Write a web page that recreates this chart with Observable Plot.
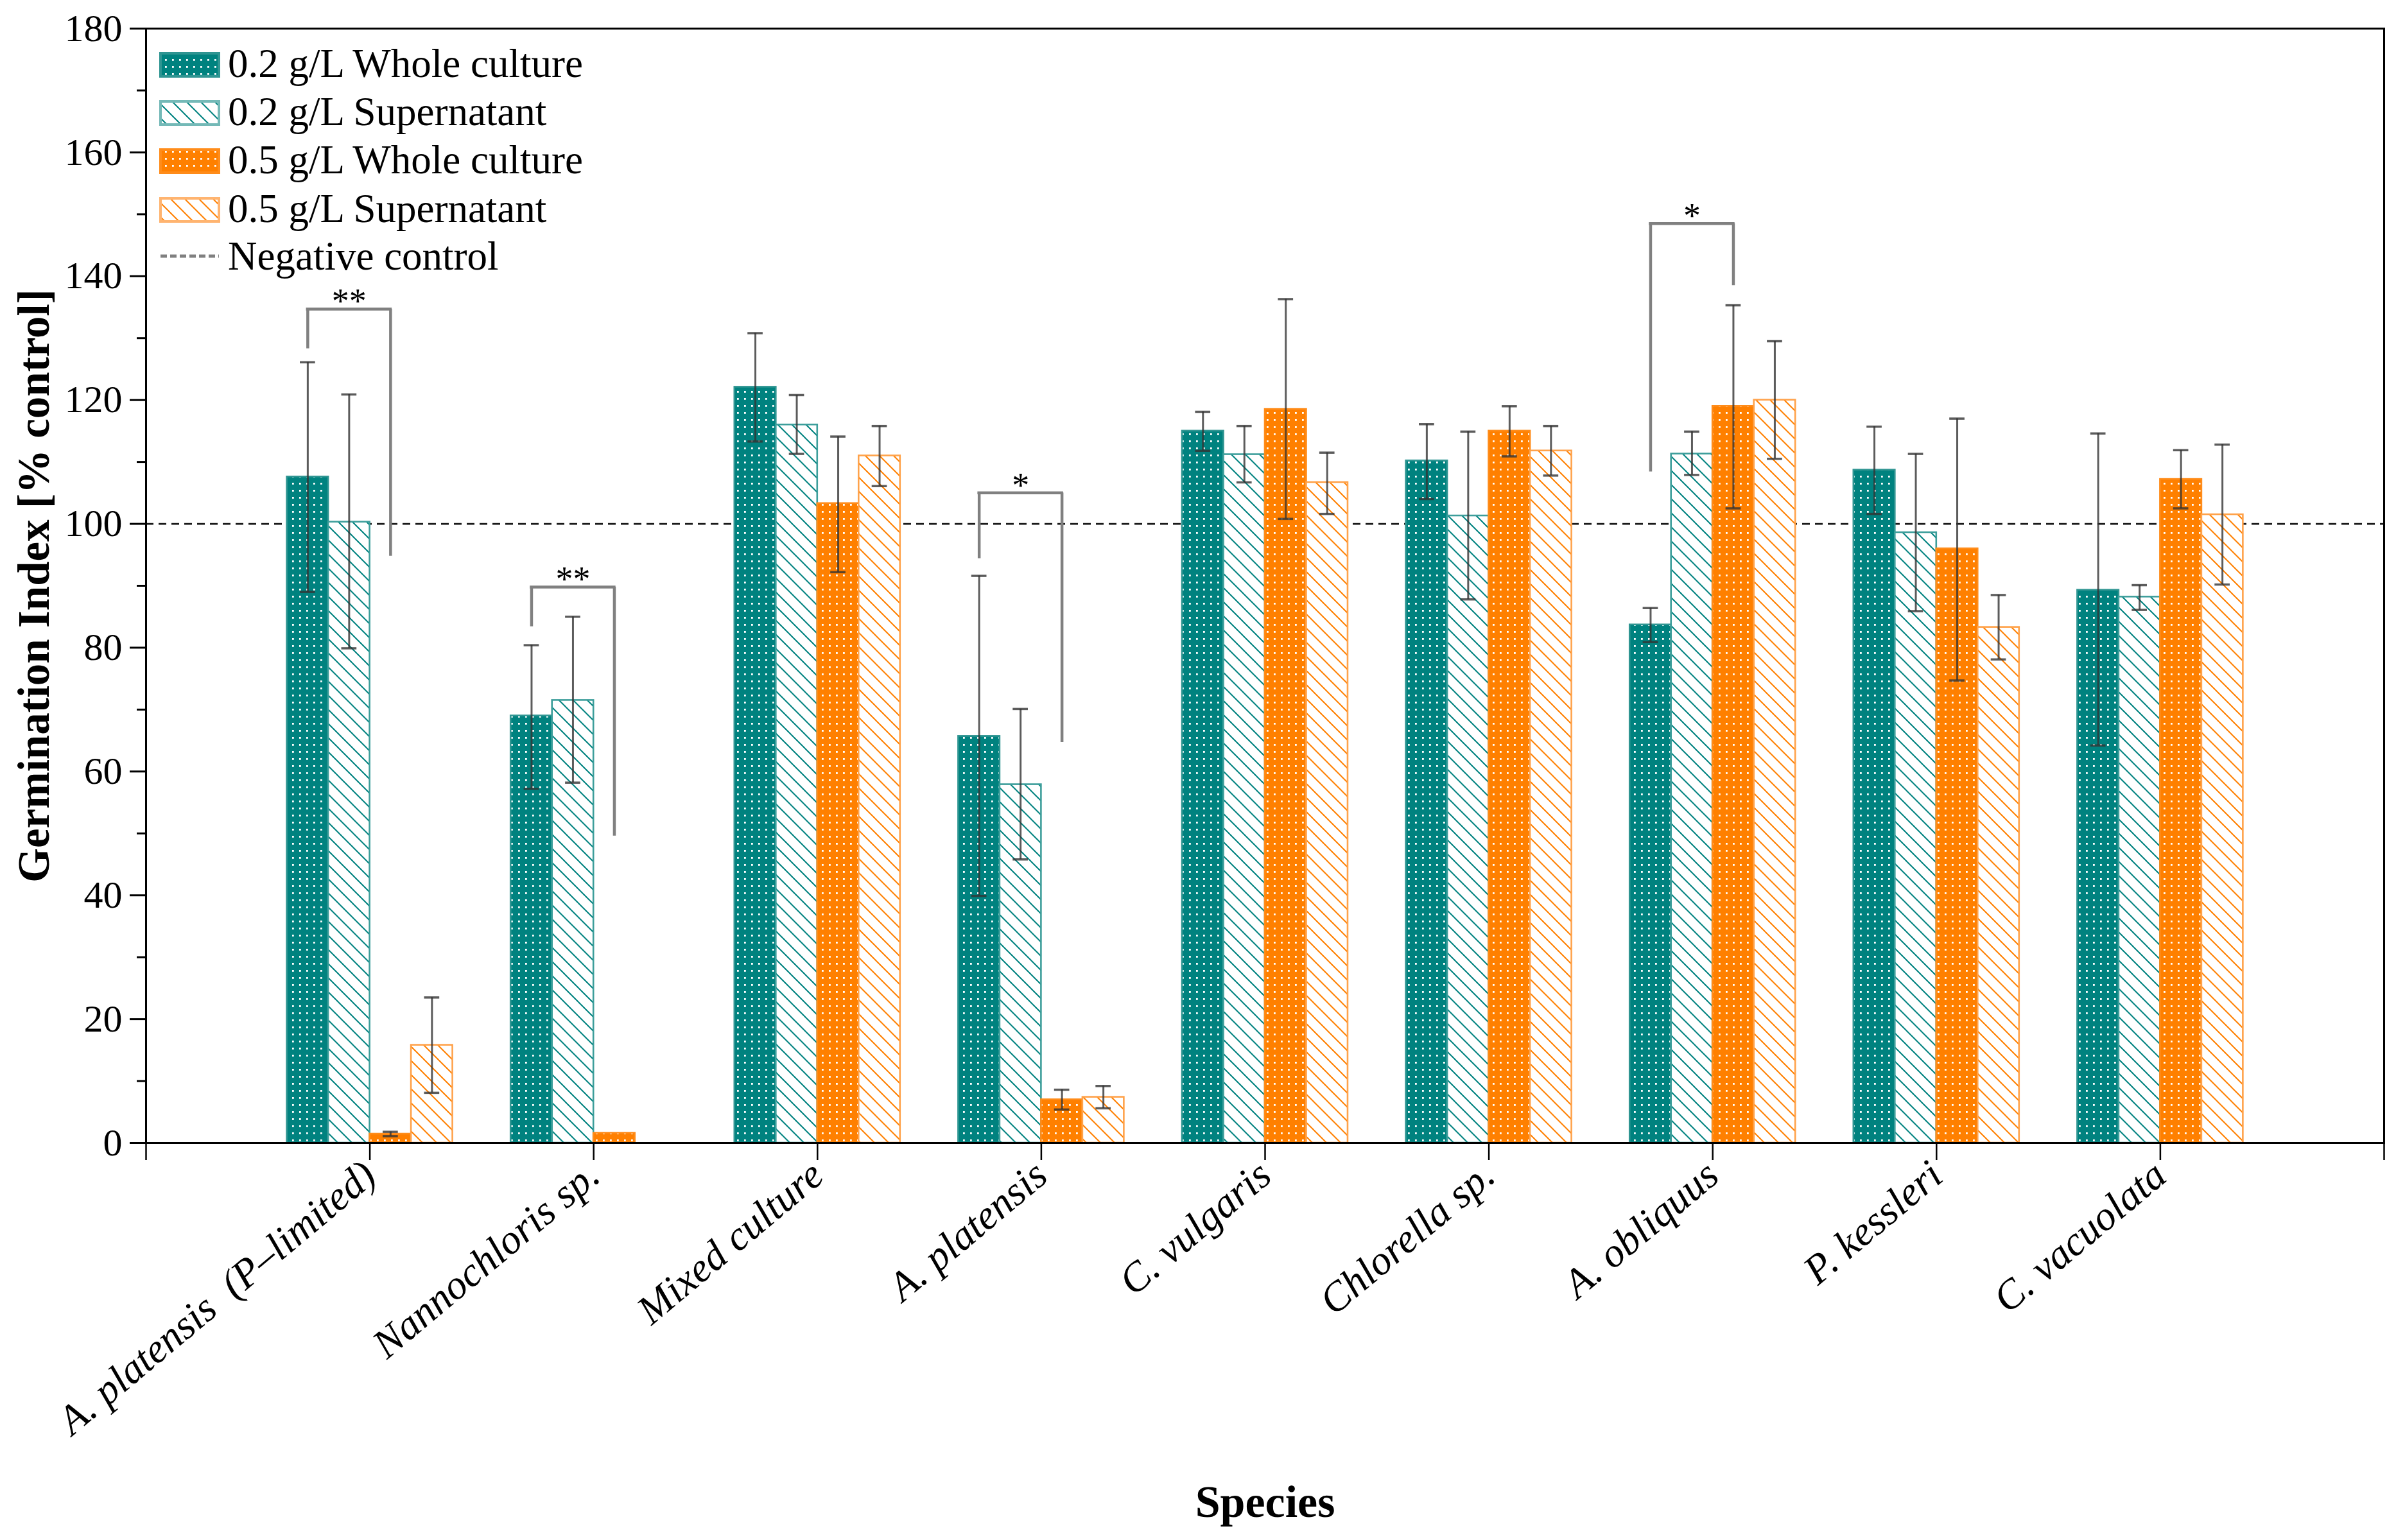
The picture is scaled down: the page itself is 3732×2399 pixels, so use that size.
<!DOCTYPE html>
<html>
<head>
<meta charset="utf-8">
<script src="https://cdn.jsdelivr.net/npm/d3@7"></script>
<script src="https://cdn.jsdelivr.net/npm/@observablehq/plot@0.6"></script>
<style>
  html, body { margin: 0; padding: 0; background: #fff; }
  #defs { position: absolute; width: 0; height: 0; }
</style>
</head>
<body>
<svg id="defs" width="0" height="0">
  <defs>
    <pattern id="dotsTeal" patternUnits="userSpaceOnUse" width="11" height="11">
      <rect width="11" height="11" fill="#00827F"></rect>
      <rect x="4" y="4" width="2.8" height="2.8" fill="#ffffff"></rect>
    </pattern>
    <pattern id="dotsOrange" patternUnits="userSpaceOnUse" width="11" height="11">
      <rect width="11" height="11" fill="#FF8000"></rect>
      <rect x="4" y="4" width="2.8" height="2.8" fill="#ffffff"></rect>
    </pattern>
    <pattern id="hatchTeal" patternUnits="userSpaceOnUse" width="22" height="22">
      <rect width="22" height="22" fill="#ffffff"></rect>
      <path d="M0,0L22,22M-6,16L6,28M16,-6L28,6" stroke="#00827F" stroke-width="2"></path>
    </pattern>
    <pattern id="hatchOrange" patternUnits="userSpaceOnUse" width="22" height="22">
      <rect width="22" height="22" fill="#ffffff"></rect>
      <path d="M0,0L22,22M-6,16L6,28M16,-6L28,6" stroke="#FF8000" stroke-width="2"></path>
    </pattern>
  </defs>
</svg>
<div id="chart"></div>
<script>
// ---- data ----
const species = [
  "A. platensis\u00A0 (P\u2013limited)",
  "Nannochloris sp.",
  "Mixed culture",
  "A. platensis",
  "C. vulgaris",
  "Chlorella sp.",
  "A. obliquus",
  "P. kessleri",
  "C. vacuolata"
];
const seriesNames = ["0.2 g/L Whole culture", "0.2 g/L Supernatant", "0.5 g/L Whole culture", "0.5 g/L Supernatant"];

const whole02   = [107.6, 69.0, 122.1, 65.7, 115.0, 110.2, 83.7, 108.7, 89.3];
const whole02Lo = [89.0, 57.2, 113.3, 39.9, 111.8, 104.0, 80.9, 101.6, 64.2];
const whole02Hi = [126.1, 80.4, 130.8, 91.6, 118.1, 116.1, 86.4, 115.7, 114.6];

const super02   = [100.3, 71.5, 116.0, 57.9, 111.2, 101.3, 111.3, 98.6, 88.2];
const super02Lo = [79.9, 58.2, 111.3, 45.8, 106.7, 87.8, 107.9, 85.9, 86.1];
const super02Hi = [120.9, 85.0, 120.8, 70.1, 115.8, 114.9, 114.9, 111.3, 90.1];

const whole05   = [1.45, 1.6, 103.3, 7.0, 118.5, 115.0, 119.0, 96.0, 107.2];
const whole05Lo = [1.1, null, 92.2, 5.4, 100.8, 110.9, 102.5, 74.7, 102.5];
const whole05Hi = [1.8, null, 114.1, 8.6, 136.3, 119.0, 135.3, 117.0, 111.9];

const super05   = [15.8, 0, 111.0, 7.4, 106.7, 111.8, 120.0, 83.3, 101.5];
const super05Lo = [8.1, null, 106.1, 5.6, 101.6, 107.8, 110.5, 78.1, 90.2];
const super05Hi = [23.5, null, 115.8, 9.2, 111.5, 115.8, 129.5, 88.5, 112.8];

const negativeControl = 100;

// significance brackets (between 0.2 g/L and 0.5 g/L whole culture)
const bracketSpecies  = [1, 2, 4, 7];        // 1-based species index
const bracketLeftEnd  = [128.3, 83.4, 94.4, 108.4];
const bracketTop      = [134.7, 89.8, 105.0, 148.5];
const bracketRightEnd = [94.8, 49.6, 64.7, 138.5];
const bracketLabel    = ["**", "**", "*", "*"];

const yTicks = d3.range(0, 181, 20);
const yMinorTicks = d3.range(10, 180, 20);

// ---- styling ----
const fills   = ["url(#dotsTeal)", "url(#hatchTeal)", "url(#dotsOrange)", "url(#hatchOrange)"];
const strokes = ["#2f9592", "#3d9e9b", "#ff8c1a", "#ffa24a"];
const barW = 0.185;           // in x-scale units (one species step = 1)
const capHalf = 0.034;
const font = "'Liberation Serif', 'Times New Roman', serif";

const values = [whole02, super02, whole05, super05];
const los = [whole02Lo, super02Lo, whole05Lo, super05Lo];
const his = [whole02Hi, super02Hi, whole05Hi, super05Hi];

const rows = [];
values.forEach((vals, s) => vals.forEach((v, i) => {
  const x1 = (i + 1) - 2 * barW + s * barW;
  rows.push({species: species[i], series: seriesNames[s], s, i, value: v,
             lo: los[s][i], hi: his[s][i], x1, x2: x1 + barW, xc: x1 + barW / 2});
}));
const errRows = rows.filter(d => d.lo != null && d.hi != null);
const barRows = rows.filter(d => d.value > 0);

const brackets = bracketSpecies.map((g, k) => {
  const left = g - 2 * barW + barW / 2;        // centre of 0.2 g/L whole culture bar
  const right = g - 2 * barW + 2.5 * barW;     // centre of 0.5 g/L whole culture bar
  return {left, right, lowL: bracketLeftEnd[k], top: bracketTop[k], lowR: bracketRightEnd[k], label: bracketLabel[k]};
});

const W = 3732, H = 2399;
const chart = Plot.plot({
  width: W,
  height: H,
  marginLeft: 227,
  marginRight: 19,
  marginTop: 44,
  marginBottom: 619,
  style: {fontFamily: font, background: "#fff", color: "#000", overflow: "visible"},
  x: {domain: [0, 10], axis: null},
  y: {domain: [0, 180], axis: null},
  marks: [
    Plot.ruleY([negativeControl], {stroke: "#1a1a1a", strokeWidth: 2.8, strokeDasharray: "12,8"}),
    Plot.rect(barRows, {
      x1: "x1", x2: "x2", y1: () => 0, y2: "value",
      fill: d => fills[d.s], stroke: d => strokes[d.s], strokeWidth: 2.6
    }),
    // error bars
    Plot.ruleX(errRows, {x: "xc", y1: "lo", y2: "hi", stroke: "#333", strokeOpacity: 0.8, strokeWidth: 3}),
    Plot.ruleY(errRows, {y: "hi", x1: d => d.xc - capHalf, x2: d => d.xc + capHalf, stroke: "#333", strokeOpacity: 0.8, strokeWidth: 3.5}),
    Plot.ruleY(errRows, {y: "lo", x1: d => d.xc - capHalf, x2: d => d.xc + capHalf, stroke: "#333", strokeOpacity: 0.8, strokeWidth: 3.5}),
    // significance brackets
    Plot.ruleX(brackets, {x: "left", y1: "lowL", y2: "top", stroke: "#808080", strokeWidth: 4.5}),
    Plot.ruleX(brackets, {x: "right", y1: "lowR", y2: "top", stroke: "#808080", strokeWidth: 4.5}),
    Plot.ruleY(brackets, {y: "top", x1: "left", x2: "right", stroke: "#808080", strokeWidth: 4.5, strokeLinecap: "square"}),
    Plot.text(brackets, {x: d => (d.left + d.right) / 2, y: "top", text: "label", lineAnchor: "bottom", dy: 6, fontSize: 54, fill: "#000"}),
    // frame & axes
    Plot.frame({stroke: "#000", strokeWidth: 3}),
    Plot.axisY({ticks: yTicks, tickSize: 25, tickPadding: 12, fontSize: 60, label: null, strokeWidth: 3, fill: "#000"}),
    Plot.axisY({ticks: yMinorTicks, tickSize: 14, tickFormat: () => "", label: null, strokeWidth: 3}),
    Plot.axisX({ticks: d3.range(0, 11), tickSize: 27, tickFormat: () => "", label: null, strokeWidth: 2.5}),
    Plot.text(species, {
      x: (d, i) => i + 1, frameAnchor: "bottom", dy: 22, dx: -16,
      rotate: -40, textAnchor: "end", lineAnchor: "top",
      fontStyle: "italic", fontSize: 64, fill: "#000"
    }),
    Plot.text(["Germination Index [% control]"], {
      frameAnchor: "left", dx: -174, rotate: -90, textAnchor: "middle", lineAnchor: "middle",
      fontWeight: "bold", fontSize: 69, fill: "#000"
    }),
    Plot.text(["Species"], {
      frameAnchor: "bottom", dy: 560, textAnchor: "middle", lineAnchor: "middle",
      fontWeight: "bold", fontSize: 70, fill: "#000"
    })
  ]
});

document.getElementById("chart").appendChild(chart);

// ---- legend (inside the plot, top-left) ----
const svg = d3.select(chart);
const legend = svg.append("g")
  .attr("font-family", font).attr("font-size", 63).attr("text-anchor", "start");
const legendRows = [
  {name: seriesNames[0], fill: fills[0], stroke: strokes[0], base: 120},
  {name: seriesNames[1], fill: fills[1], stroke: "#74b9b7", base: 195},
  {name: seriesNames[2], fill: fills[2], stroke: strokes[2], base: 270},
  {name: seriesNames[3], fill: fills[3], stroke: "#ffb470", base: 346}
];
legendRows.forEach(r => {
  legend.append("rect").attr("x", 250).attr("y", r.base - 37).attr("width", 91).attr("height", 36)
    .attr("fill", r.fill).attr("stroke", r.stroke).attr("stroke-width", 4);
  legend.append("text").attr("x", 355).attr("y", r.base).attr("fill", "#000").text(r.name);
});
legend.append("line").attr("x1", 250).attr("x2", 341).attr("y1", 399).attr("y2", 399)
  .attr("stroke", "#808080").attr("stroke-width", 5).attr("stroke-dasharray", "10,5");
legend.append("text").attr("x", 355).attr("y", 420).attr("fill", "#000").text("Negative control");
</script>
</body>
</html>
